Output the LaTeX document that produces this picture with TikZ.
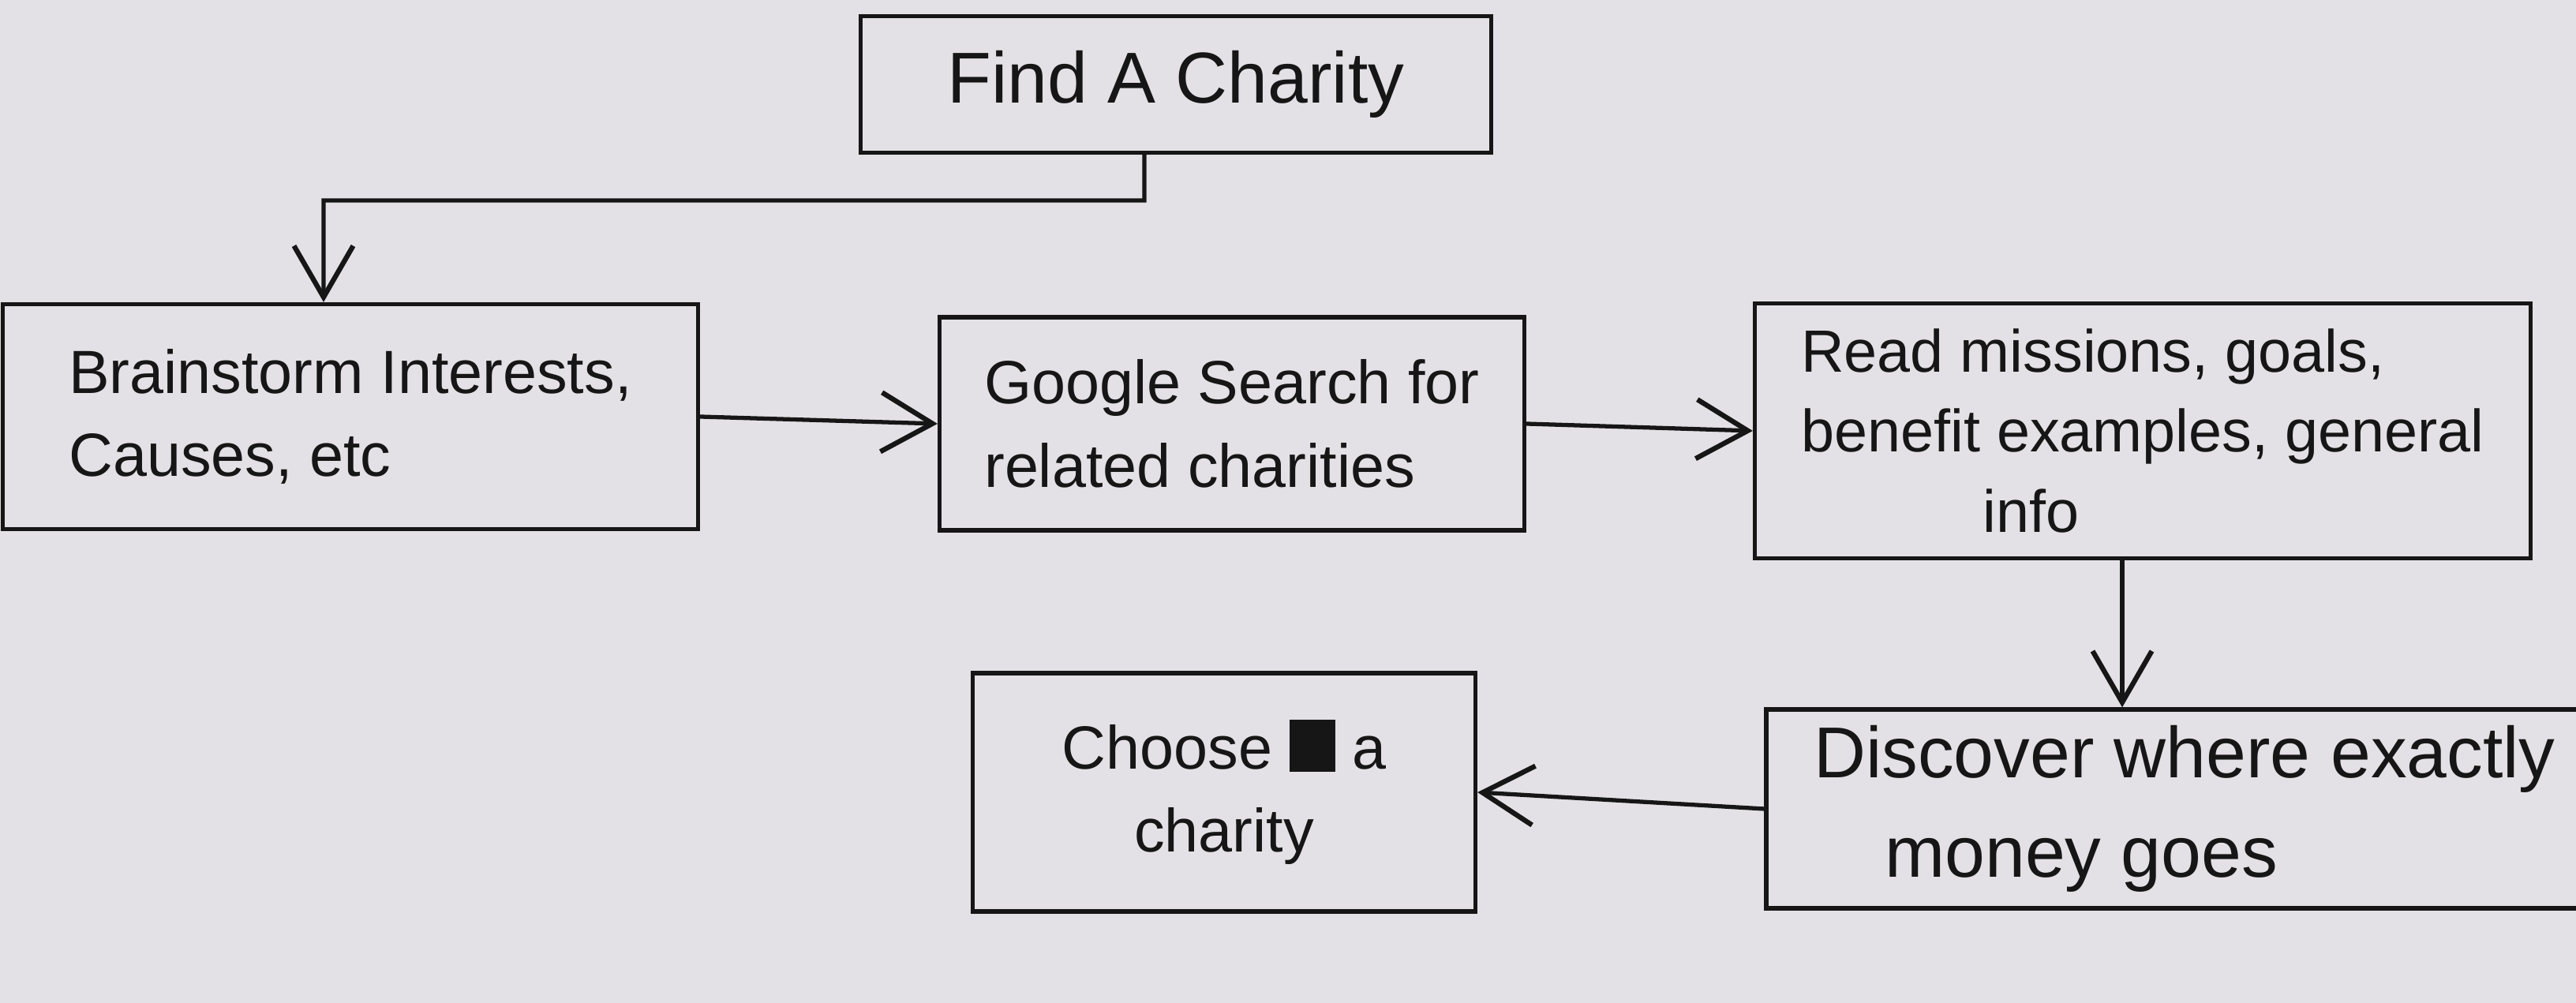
\documentclass[tikz,border=0pt]{standalone}
\usepackage{fontspec}
\setmainfont{Liberation Sans}
\usetikzlibrary{arrows.meta}

\definecolor{paper}{RGB}{227,225,229}
\definecolor{ink}{RGB}{22,22,22}

\tikzset{
  stepbox/.style={draw=ink, line width=1.5pt, inner sep=0pt, align=left,
    text=ink, font=\fontsize{22}{30}\selectfont},
  arr/.style={draw=ink, line width=1.5pt,
    -{Straight Barb[length=6.5mm,width=7.5mm,line width=1.8pt]}},
}

\begin{document}
\begin{tikzpicture}
        % paper
        \fill[paper] (0,0) rectangle (32.64,12.71);
        \useasboundingbox (0,0) rectangle (32.64,12.71);
        % boxes
        \node[stepbox, minimum width=7.99cm, minimum height=1.73cm, font=\fontsize{26}{30}\selectfont] (find) at (14.90,11.64) {Find A Charity};
        \node[stepbox, minimum width=8.81cm, minimum height=2.85cm] (brain) at (4.44,7.43) {Brainstorm Interests,\\Causes, etc};
        \node[stepbox, minimum width=7.41cm, minimum height=2.70cm] (google) at (15.61,7.34) {Google Search for\\related charities};
        \node[stepbox, minimum width=9.83cm, minimum height=3.23cm, font=\fontsize{21.5}{29}\selectfont] (read) at (27.15,7.25) {Read missions, goals,\\benefit examples, general\\\hspace*{2.3cm}info};
        \node[stepbox, minimum width=10.60cm, minimum height=2.52cm, font=\fontsize{26}{36}\selectfont] (disc) at (27.68,2.46) {Discover where exactly\\\hspace*{0.9cm}money goes};
        \node[stepbox, align=center, minimum width=6.37cm, minimum height=3.02cm] (choose) at (15.51,2.67) {Choose \rule[-0.05em]{0.75em}{0.85em} a\\charity};
        % connectors
        \coordinate (bend) at (4.10,10.17);
        \draw[arr] ([xshift=-4mm]find.south) |- (bend) -- ([xshift=-3.4mm]brain.north);
        \draw[arr] (brain.east) -- (google.west);
        \draw[arr] (google.east) -- (read.west);
        \draw[arr] ([xshift=-2.6mm]read.south) -- ([xshift=-2.6mm]read.south |- disc.north);
        \draw[arr] (disc.west) -- (choose.east);
\end{tikzpicture}
\end{document}
